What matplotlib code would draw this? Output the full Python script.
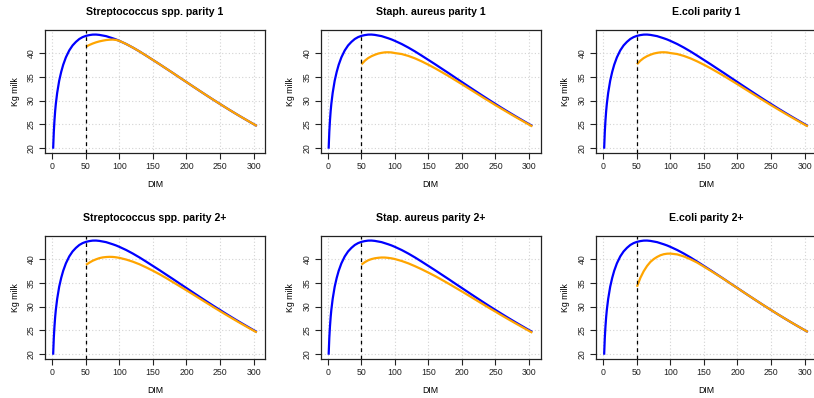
import matplotlib
matplotlib.use("Agg")
import matplotlib.pyplot as plt
import numpy as np

plt.rcParams['font.family'] = ['Liberation Sans', 'DejaVu Sans']

# Baseline lactation curve (DIM vs kg milk)
dim_base = [1, 2, 3, 4, 5, 7, 10, 13, 16, 20, 25, 30, 35, 40, 45, 50, 55, 60, 65, 70,
            80, 90, 95, 100, 110, 120, 130, 140, 150, 160, 170, 180, 190, 200, 210,
            220, 230, 240, 250, 260, 270, 280, 290, 300, 305]
milk_base = [19.9, 23.5, 25.9, 27.8, 29.3, 31.6, 34.15, 36.0, 37.5, 39.05, 40.5, 41.55,
             42.3, 42.9, 43.3, 43.56, 43.72, 43.82, 43.83, 43.76, 43.5, 43.05, 42.8,
             42.5, 41.85, 41.1, 40.28, 39.4, 38.5, 37.6, 36.67, 35.75, 34.8, 33.87,
             32.93, 32.0, 31.08, 30.17, 29.28, 28.4, 27.54, 26.7, 25.88, 25.07, 24.68]

# Curves after a case of mastitis at DIM 50
dim_case = [50, 55, 60, 65, 70, 75, 80, 85, 90, 95, 100, 110, 120, 130, 140, 150, 160,
            170, 180, 190, 200, 210, 220, 230, 240, 250, 260, 270, 280, 290, 300, 305]
strep_p1 = [41.3, 41.65, 41.95, 42.2, 42.4, 42.55, 42.68, 42.75, 42.78, 42.7, 42.5,
            41.85, 41.1, 40.28, 39.4, 38.5, 37.6, 36.67, 35.75, 34.8, 33.87, 32.93,
            32.0, 31.08, 30.17, 29.28, 28.4, 27.54, 26.7, 25.88, 25.07, 24.68]
staph_p1 = [37.6, 38.35, 38.9, 39.3, 39.6, 39.85, 40.0, 40.1, 40.12, 40.08, 39.95,
            39.75, 39.35, 38.83, 38.2, 37.5, 36.75, 35.95, 35.13, 34.27, 33.41, 32.53,
            31.65, 30.77, 29.9, 29.04, 28.2, 27.37, 26.55, 25.75, 24.96, 24.58]
ecoli_p1 = [37.6, 38.35, 38.9, 39.3, 39.6, 39.85, 40.0, 40.1, 40.12, 40.08, 39.95,
            39.75, 39.35, 38.83, 38.2, 37.5, 36.75, 35.95, 35.13, 34.27, 33.41, 32.53,
            31.65, 30.77, 29.9, 29.04, 28.2, 27.37, 26.55, 25.75, 24.96, 24.58]
strep_p2 = [38.75, 39.2, 39.6, 39.9, 40.15, 40.3, 40.38, 40.42, 40.4, 40.32, 40.2,
            39.85, 39.4, 38.85, 38.2, 37.5, 36.75, 35.95, 35.1, 34.25, 33.4, 32.53,
            31.65, 30.77, 29.9, 29.04, 28.2, 27.37, 26.55, 25.75, 24.96, 24.58]
staph_p2 = [38.8, 39.3, 39.7, 39.95, 40.12, 40.22, 40.28, 40.27, 40.2, 40.1, 39.95,
            39.55, 39.05, 38.45, 37.8, 37.1, 36.38, 35.6, 34.8, 33.98, 33.15, 32.3,
            31.45, 30.6, 29.75, 28.92, 28.08, 27.27, 26.47, 25.68, 24.9, 24.52]
ecoli_p2 = [34.15, 36.0, 37.4, 38.5, 39.35, 39.95, 40.4, 40.75, 40.97, 41.08, 41.1,
            40.93, 40.5, 39.9, 39.2, 38.35, 37.5, 36.62, 35.72, 34.78, 33.85, 32.92,
            32.0, 31.08, 30.17, 29.28, 28.4, 27.54, 26.7, 25.88, 25.07, 24.68]

titles = ["Streptococcus spp. parity 1", "Staph. aureus parity 1", "E.coli parity 1",
          "Streptococcus spp. parity 2+", "Stap. aureus parity 2+", "E.coli parity 2+"]
case_series = [strep_p1, staph_p1, ecoli_p1, strep_p2, staph_p2, ecoli_p2]
case_day = 50
x_ticks = [0, 50, 100, 150, 200, 250, 300]
y_ticks = [20, 25, 30, 35, 40]

W, H = 814, 398
fig = plt.figure(figsize=(W / 100, H / 100), dpi=100)

lefts = [45, 320.5, 596]
tops = [30, 236]
aw, ah = 220, 123.3

for i, (title, ys) in enumerate(zip(titles, case_series)):
    r, c = divmod(i, 3)
    ax = fig.add_axes([lefts[c] / W, 1 - (tops[r] + ah) / H, aw / W, ah / H])
    allx = dim_base + dim_case
    ally = milk_base + ys
    xr = max(allx) - min(allx)
    yr = max(ally) - min(ally)
    ax.set_xlim(min(allx) - 0.04 * xr, max(allx) + 0.04 * xr)
    ax.set_ylim(min(ally) - 0.04 * yr, max(ally) + 0.04 * yr)
    ax.set_xticks(x_ticks)
    ax.set_yticks(y_ticks)
    ax.grid(True, color='#d3d3d3', linestyle=(0, (1, 2)), linewidth=0.8)
    ax.set_axisbelow(True)
    ax.plot(dim_base, milk_base, color='#0000FF', lw=1.6, solid_capstyle='butt')
    ax.plot(dim_case, ys, color='#FFA500', lw=1.6, solid_capstyle='butt')
    ax.axvline(case_day, color='black', lw=0.9, linestyle=(0, (3, 3)))
    for s in ax.spines.values():
        s.set_linewidth(0.9)
        s.set_color('#222222')
    ax.tick_params(axis='both', direction='out', length=4, width=0.8,
                   labelsize=6.3, colors='#222222', pad=2.5)
    for lab in ax.get_yticklabels():
        lab.set_rotation(90)
        lab.set_va('center')
    ax.set_xlabel('DIM', fontsize=6.3, va='center')
    ax.xaxis.set_label_coords(0.5, -(31 / ah))
    ax.set_ylabel('Kg milk', fontsize=6.3, va='center')
    ax.yaxis.set_label_coords(-(30 / aw), 0.5)
    ax.text(0.5, 1 + 17.7 / ah, title, transform=ax.transAxes, ha='center',
            va='center', fontsize=7.6, fontweight='bold')

fig.savefig('out.png', dpi=100)
